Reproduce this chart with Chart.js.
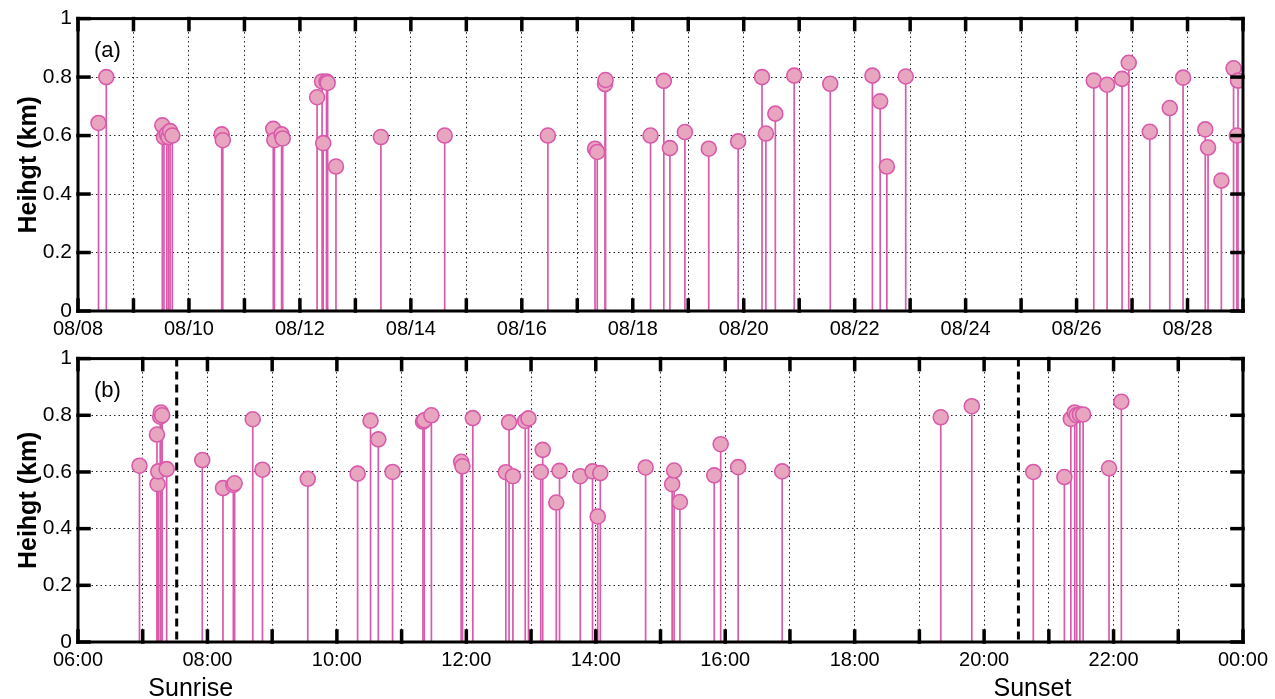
<!DOCTYPE html>
<html>
<head>
<meta charset="utf-8">
<script src="https://cdn.jsdelivr.net/npm/chart.js@4.4.1/dist/chart.umd.min.js"></script>
<style>
    html, body { margin: 0; padding: 0; background: #fff; }
    #wrap { position: relative; width: 1275px; height: 699px; }
    canvas { position: absolute; left: 0; }
</style>
</head>
<body>
<div id="wrap">
    <canvas id="chartA" width="1275" height="340" style="top:0"></canvas>
    <canvas id="chartB" width="1275" height="359" style="top:340px"></canvas>
</div>
<script>
// Panel (a): day of August (fractional) vs height
const dayA = [8.37, 8.51, 9.52, 9.55, 9.60, 9.63, 9.66, 9.70, 10.59, 10.61, 11.52, 11.54, 11.67, 11.69,
    12.31, 12.40, 12.42, 12.48, 12.50, 12.65, 13.46, 14.61, 16.47, 17.32, 17.36, 17.50, 17.51, 18.32,
    18.56, 18.67, 18.94, 19.37, 19.90, 20.33, 20.40, 20.57, 20.91, 21.56, 22.32, 22.46, 22.58, 22.92,
    26.31, 26.55, 26.82, 26.94, 27.32, 27.68, 27.92, 28.32, 28.37, 28.61, 28.83, 28.89, 28.91];
const heightA = [0.643, 0.80, 0.635, 0.595, 0.605, 0.595, 0.615, 0.60, 0.604, 0.584, 0.623, 0.584, 0.604, 0.59,
    0.731, 0.785, 0.574, 0.785, 0.78, 0.494, 0.595, 0.60, 0.60, 0.555, 0.544, 0.776, 0.79, 0.60,
    0.787, 0.557, 0.612, 0.555, 0.58, 0.80, 0.607, 0.675, 0.805, 0.777, 0.805, 0.717, 0.494, 0.802,
    0.788, 0.774, 0.794, 0.849, 0.613, 0.694, 0.798, 0.621, 0.559, 0.446, 0.83, 0.60, 0.788];

// Panel (b): hour of day vs height
const hourB = [6.95, 7.22, 7.23, 7.24, 7.27, 7.28, 7.30, 7.37, 7.92, 8.24, 8.40, 8.42, 8.70, 8.85, 9.55, 10.32,
    10.52, 10.64, 10.86, 11.33, 11.35, 11.46, 11.92, 11.94, 12.10, 12.61, 12.66, 12.72, 12.91, 12.96, 13.15, 13.18,
    13.39, 13.44, 13.76, 13.95, 14.03, 14.07, 14.77, 15.18, 15.21, 15.30, 15.83, 15.93, 16.20, 16.88, 19.33, 19.81,
    20.76, 21.24, 21.34, 21.40, 21.43, 21.48, 21.53, 21.93, 22.12];
const heightB = [0.622, 0.732, 0.557, 0.602, 0.795, 0.81, 0.80, 0.61, 0.642, 0.543, 0.554, 0.56, 0.786, 0.608, 0.576, 0.594,
    0.781, 0.715, 0.60, 0.778, 0.782, 0.80, 0.636, 0.62, 0.79, 0.599, 0.775, 0.585, 0.78, 0.789, 0.60, 0.678,
    0.492, 0.604, 0.585, 0.602, 0.443, 0.596, 0.616, 0.557, 0.605, 0.494, 0.588, 0.698, 0.617, 0.602, 0.793, 0.832,
    0.60, 0.582, 0.787, 0.81, 0.80, 0.803, 0.803, 0.613, 0.848];

const sunMarks = [7.525, 20.53];
const sunLabels = ['Sunrise', 'Sunset'];

const FONT = "'Liberation Sans', Arial, sans-serif";
const STEM = '#d95aab';
const FILL = '#e8a5c0';

// stems from zero to each point, plus optional dashed vertical markers
const stemPlugin = {
    id: 'stems',
    beforeDatasetsDraw(chart, args, opts) {
        const { ctx, scales: { x, y }, chartArea } = chart;
        ctx.save();
        (opts.vlines || []).forEach(v => {
            const px = x.getPixelForValue(v);
            ctx.strokeStyle = '#000';
            ctx.lineWidth = 3;
            ctx.setLineDash([8, 5]);
            ctx.beginPath();
            ctx.moveTo(px, chartArea.top);
            ctx.lineTo(px, chartArea.bottom);
            ctx.stroke();
        });
        ctx.setLineDash([]);
        ctx.strokeStyle = STEM;
        ctx.lineWidth = 1.7;
        chart.data.datasets[0].data.forEach(p => {
            const px = x.getPixelForValue(p.x);
            ctx.beginPath();
            ctx.moveTo(px, y.getPixelForValue(0));
            ctx.lineTo(px, y.getPixelForValue(p.y));
            ctx.stroke();
        });
        ctx.restore();
    },
    afterDraw(chart, args, opts) {
        // box, panel letter and captions
        const { ctx, scales: { x, y }, chartArea: a } = chart;
        ctx.save();
        ctx.strokeStyle = '#000';
        ctx.lineWidth = 3;
        ctx.strokeRect(a.left, a.top, a.right - a.left, a.bottom - a.top);
        // inward tick marks on all four sides
        ctx.lineWidth = 3.5;
        ctx.strokeStyle = '#000';
        const len = 11;
        const xs = x.ticks.map(t => x.getPixelForValue(t.value));
        const ys = y.ticks.map(t => y.getPixelForValue(t.value));
        xs.forEach(px => {
            ctx.strokeRect(px, a.bottom - len, 0.01, len);
            ctx.strokeRect(px, a.top, 0.01, len);
        });
        ys.forEach(py => {
            ctx.strokeRect(a.left, py, len, 0.01);
            ctx.strokeRect(a.right - len, py, len, 0.01);
        });
        ctx.fillStyle = '#000';
        ctx.font = '22px ' + FONT;
        ctx.textAlign = 'left';
        ctx.textBaseline = 'middle';
        ctx.fillText(opts.letter, a.left + 16, a.top + 32);
        ctx.textAlign = 'center';
        ctx.textBaseline = 'alphabetic';
        ctx.font = '25px ' + FONT;
        (opts.captions || []).forEach((c, i) => {
            ctx.fillText(c, x.getPixelForValue(opts.vlines[i]) + 14, chart.height - 3);
        });
        ctx.restore();
    }
};

function makePanel(id, xs, ys, xOpts, pluginOpts, padTop, xHeight) {
    const pts = xs.map((v, i) => ({ x: v, y: ys[i] }));
    return new Chart(document.getElementById(id), {
        type: 'scatter',
        data: {
            datasets: [{
                data: pts,
                pointRadius: 7.5,
                pointHoverRadius: 7.5,
                pointBackgroundColor: FILL,
                pointBorderColor: STEM,
                pointBorderWidth: 1.6
            }]
        },
        options: {
            responsive: false,
            animation: false,
            layout: { padding: { top: padTop, right: 32, left: 0, bottom: 0 } },
            plugins: {
                legend: { display: false },
                tooltip: { enabled: false },
                stems: pluginOpts
            },
            scales: {
                x: {
                    type: 'linear',
                    min: xOpts.min,
                    max: xOpts.max,
                    afterFit(scale) { scale.height = xHeight; },
                    border: { display: false, dash: [1.5, 3] },
                    grid: { color: '#222', lineWidth: 1, drawTicks: false },
                    ticks: {
                        stepSize: 1,
                        autoSkip: false,
                        maxRotation: 0,
                        padding: 6,
                        color: '#000',
                        font: { family: FONT, size: 20 },
                        callback: xOpts.label
                    }
                },
                y: {
                    min: 0,
                    max: 1,
                    afterFit(scale) { scale.width = 78; },
                    border: { display: false, dash: [1.5, 3] },
                    grid: { color: '#222', lineWidth: 1, drawTicks: false },
                    title: {
                        display: true,
                        text: 'Heihgt (km)',
                        color: '#000',
                        padding: { top: 14, bottom: 0 },
                        font: { family: FONT, size: 25, weight: 'bold' }
                    },
                    ticks: {
                        stepSize: 0.2,
                        padding: 6,
                        color: '#000',
                        font: { family: FONT, size: 21 },
                        callback: v => (Math.abs(v) < 1e-9 ? '0' : Math.abs(v - 1) < 1e-9 ? '1' : v.toFixed(1))
                    }
                }
            }
        },
        plugins: [stemPlugin]
    });
}

makePanel('chartA', dayA, heightA, {
    min: 8, max: 29,
    label: v => (v % 2 === 0 ? '08/' + String(v).padStart(2, '0') : '')
}, { letter: '(a)' }, 16, 29);

makePanel('chartB', hourB, heightB, {
    min: 6, max: 24,
    label: v => (v % 2 === 0 ? String(v % 24).padStart(2, '0') + ':00' : '')
}, { letter: '(b)', vlines: sunMarks, captions: sunLabels }, 8, 57);
</script>
</body>
</html>
